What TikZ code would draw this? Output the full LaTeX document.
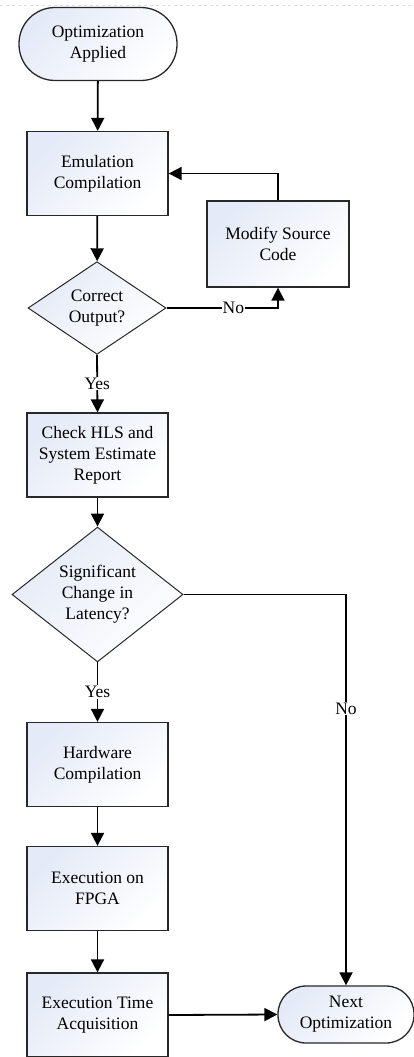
\documentclass[tikz,border=0pt]{standalone}
\usepackage{fontspec}
\setmainfont{Liberation Serif}
\newfontfamily\flowfont{Liberation Serif}
\usetikzlibrary{shapes.geometric,arrows.meta}
\definecolor{shadeblue}{RGB}{228,234,247}
\definecolor{edge}{RGB}{40,40,40}
\tikzset{
  x=1pt, y=-1pt,
  every node/.style={font=\flowfont\fontsize{17.5}{21}\selectfont, align=center, text=black},
  fillshade/.style={top color=shadeblue, bottom color=white, shading angle=45},
  stepbox/.style={rectangle, draw=edge, line width=1.3pt, fillshade,
    minimum width=141pt, minimum height=84pt, inner sep=2pt},
  terminal/.style={rectangle, draw=edge, line width=1.3pt, fillshade, inner sep=2pt},
  decision/.style={diamond, draw=edge, line width=1pt, fillshade, inner sep=0pt},
  flow/.style={draw=black, line width=1.8pt,
    -{Triangle[width=13pt,length=13pt]}},
  branchlabel/.style={fill=white, inner sep=1pt}
}
\begin{document}
\begin{tikzpicture}
\useasboundingbox (0,0) rectangle (414,1057);

% faint page guide along the top
\draw[gray!25, dashed, line width=0.8pt] (0,5) -- (414,5);

% nodes
\node[terminal, minimum width=158pt, minimum height=73pt, rounded corners=36pt]
  (start) at (98,44) {Optimization\\Applied};
\node[stepbox] (emul) at (97.5,173.5) {Emulation\\Compilation};
\node[stepbox, minimum width=142pt, minimum height=86pt] (modify) at (278,244) {Modify Source\\Code};
\node[decision, minimum width=138pt, minimum height=82pt] (correct) at (97,308) {Correct\\Output?};
\node[stepbox] (check) at (97.5,455) {Check HLS and\\System Estimate\\Report};
\node[decision, minimum width=171pt, minimum height=123pt] (signif) at (97.5,594.5) {Significant\\Change in\\Latency?};
\node[stepbox] (hw) at (97.5,764.5) {Hardware\\Compilation};
\node[stepbox] (fpga) at (97.5,888.5) {Execution on\\FPGA};
\node[stepbox] (acq) at (97.5,1015) {Execution Time\\Acquisition};
\node[terminal, minimum width=136pt, minimum height=57pt, rounded corners=28pt]
  (next) at (346,1014.5) {Next\\Optimization};

% connectors
\path[flow] (start) -- (emul);
\path[flow] (emul) -- (correct);
\path[flow] (correct.east) -| node[branchlabel, pos=0.3] {No} (modify.south);
\path[flow] (modify.north) |- (emul.east);
\path[flow] (correct.south) -- node[branchlabel] {Yes} (check.north);
\path[flow] (check) -- (signif);
\path[flow] (signif.south) -- node[branchlabel] {Yes} (hw.north);
\path[flow] (signif.east) -| node[branchlabel, pos=0.646] {No} (next.north);
\path[flow] (hw) -- (fpga);
\path[flow] (fpga) -- (acq);
\path[flow] (acq.east) -- (next.west);
\end{tikzpicture}
\end{document}
